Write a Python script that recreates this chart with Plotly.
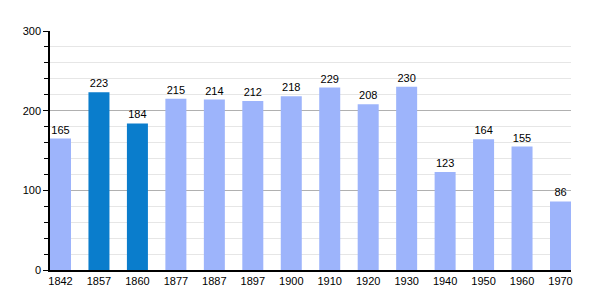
import plotly.graph_objects as go

years = ["1842", "1857", "1860", "1877", "1887", "1897", "1900", "1910", "1920", "1930", "1940", "1950", "1960", "1970"]
population = [165, 223, 184, 215, 214, 212, 218, 229, 208, 230, 123, 164, 155, 86]
highlight = [False, True, True, False, False, False, False, False, False, False, False, False, False, False]

light = "#9db4fb"
dark = "#0a7dcc"
colors = [dark if h else light for h in highlight]

fig = go.Figure(go.Bar(
    x=list(range(len(years))),
    y=population,
    width=0.546,
    marker=dict(color=colors, line=dict(width=0)),
    text=[str(v) for v in population],
    textposition="outside",
    textfont=dict(family="Liberation Sans, Arial", size=11, color="black"),
    cliponaxis=False,
))

fig.update_layout(
    width=600, height=300,
    margin=dict(l=50, r=29, t=31, b=30),
    paper_bgcolor="white", plot_bgcolor="white",
    showlegend=False,
    font=dict(family="Liberation Sans, Arial", size=11, color="black"),
    xaxis=dict(
        tickmode="array", tickvals=list(range(len(years))), ticktext=years,
        range=[-0.273, 13.273], showgrid=False, zeroline=False,
        showline=True, linecolor="black", linewidth=1.5, ticks="",
        tickfont=dict(size=11),
    ),
    yaxis=dict(
        range=[0, 300], dtick=100, tick0=0,
        showgrid=True, gridcolor="#b0b0b0", gridwidth=1,
        zeroline=False, showline=True, linecolor="black", linewidth=1.5,
        ticks="outside", ticklen=5, tickcolor="black",
        tickfont=dict(size=11),
        minor=dict(dtick=20, showgrid=True, gridcolor="#e6e6e6", gridwidth=1,
                   ticks="outside", ticklen=4, tickcolor="black"),
    ),
)

fig.write_html("out.html")
